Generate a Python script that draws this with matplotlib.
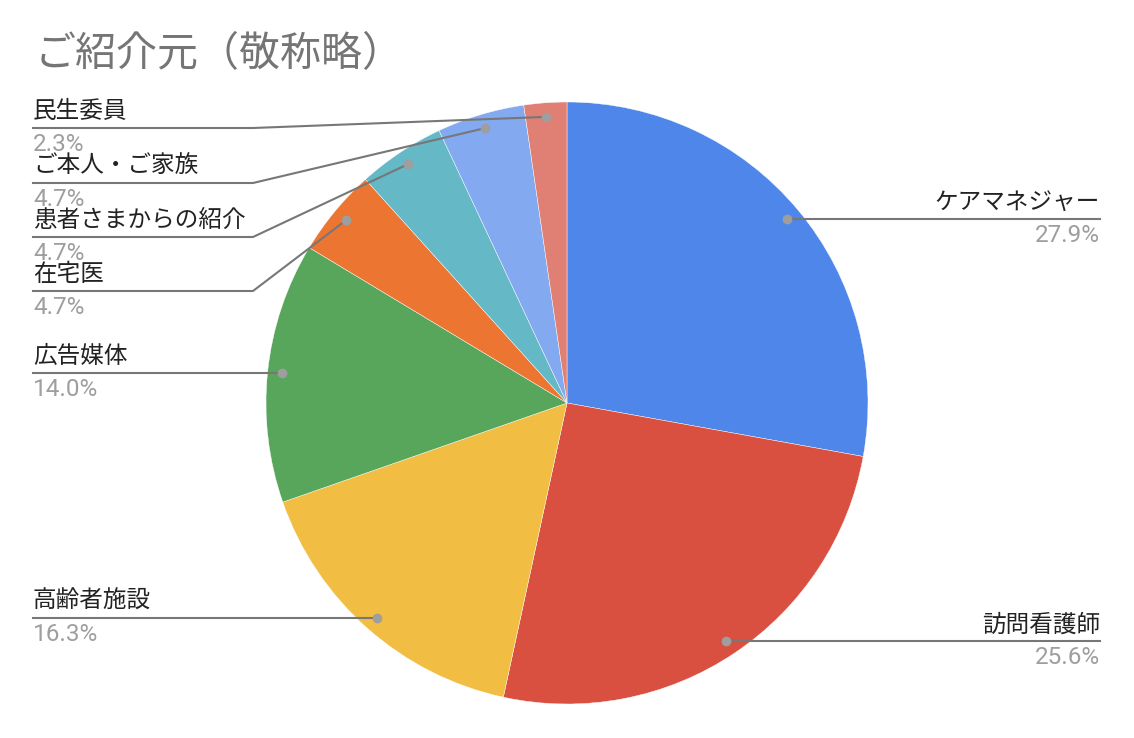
import matplotlib
matplotlib.use("Agg")
import matplotlib.pyplot as plt
import numpy as np

title = "ご紹介元（敬称略）"
categories = ["ケアマネジャー", "訪問看護師", "高齢者施設", "広告媒体",
              "在宅医", "患者さまからの紹介", "ご本人・ご家族", "民生委員"]
values = [27.9, 25.6, 16.3, 14.0, 4.7, 4.7, 4.7, 2.3]
pct_labels = ["27.9%", "25.6%", "16.3%", "14.0%", "4.7%", "4.7%", "4.7%", "2.3%"]
colors = ["#4f86ea", "#d95040", "#f1bd42", "#58a65c",
          "#ec7532", "#65b8c5", "#83a9f1", "#e07f74"]

W, H = 1134, 738
fig = plt.figure(figsize=(W / 100, H / 100), dpi=100)
ax = fig.add_axes([0, 0, 1, 1])
ax.set_xlim(0, W)
ax.set_ylim(0, H)
ax.set_aspect("equal")
ax.axis("off")

def Y(py):
    return H - py

cx, cy, R = 567, Y(403), 301
wedges, _ = ax.pie(values, colors=colors, startangle=90, counterclock=False,
                   center=(cx, cy), radius=R,
                   wedgeprops=dict(edgecolor="white", linewidth=0.3))
ax.set_xlim(0, W)
ax.set_ylim(0, H)

fig.text(35 / W, 1 - 55 / H, title, fontsize=29.5, color="#757575",
         family=["Noto Sans CJK JP", "DejaVu Sans"], va="center", ha="left")

jp = ["Noto Sans CJK JP", "DejaVu Sans"]
num = ["Roboto", "DejaVu Sans"]
line_c = "#777777"
dot_c = "#9e9e9e"

# label rows for the stacked small slices (pixel y of leader line)
stack_rows = {"在宅医": 291, "患者さまからの紹介": 237, "ご本人・ご家族": 183, "民生委員": 128}
left_x, knee_x, right_x = 33, 253, 1100

for w, cat, pct in zip(wedges, categories, pct_labels):
    mid = np.deg2rad((w.theta1 + w.theta2) / 2)
    dx = w.center[0] + 0.953 * w.r * np.cos(mid)
    dy = w.center[1] + 0.953 * w.r * np.sin(mid)
    if dx > cx:
        ly = dy
        ax.plot([dx, right_x], [ly, ly], color=line_c, lw=1.5, zorder=3)
        tx, ha = right_x, "right"
    else:
        ly = Y(stack_rows[cat]) if cat in stack_rows else dy
        ax.plot([left_x, knee_x, dx], [ly, ly, dy], color=line_c, lw=1.5, zorder=3)
        tx, ha = left_x, "left"
    ax.plot([dx], [dy], "o", color=dot_c, ms=6, zorder=4)
    ax.text(tx, ly + 5, cat, fontsize=17, color="#222222", family=jp,
            ha=ha, va="bottom")
    ax.text(tx, ly - 5, pct, fontsize=17.5, color="#9e9e9e", family=num,
            ha=ha, va="top")

fig.savefig("out.png", dpi=100, facecolor="white")
